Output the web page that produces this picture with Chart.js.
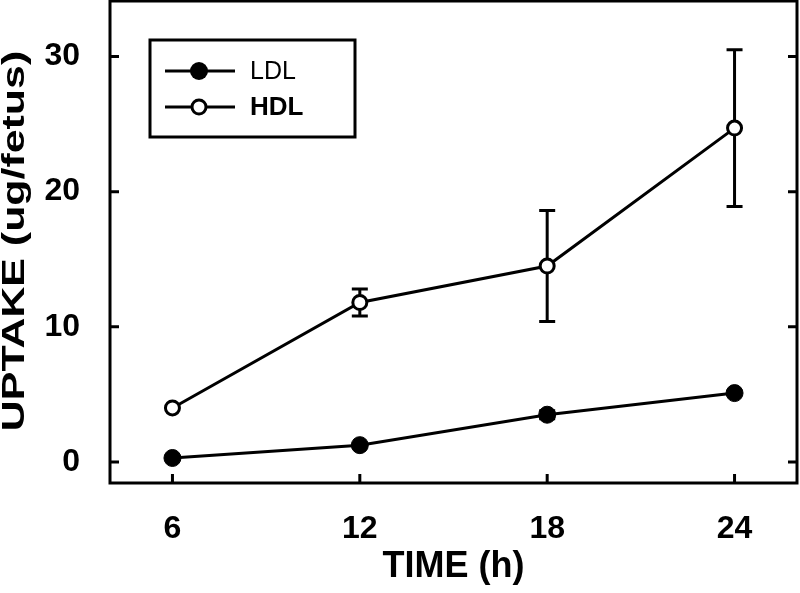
<!DOCTYPE html>
<html>
<head>
<meta charset="utf-8">
<script src="https://cdn.jsdelivr.net/npm/chart.js@4"></script>
<style>
  html, body { margin: 0; padding: 0; background: #fff; }
  #wrap { width: 800px; height: 593px; }
</style>
</head>
<body>
<div id="wrap"><canvas id="chart" width="800" height="593"></canvas></div>
<script>
const hours = [6, 12, 18, 24];
const ldl = [0.3, 1.25, 3.5, 5.1];
const ldlErr = [0, 0, 0.3, 0];
const hdl = [4.0, 11.8, 14.5, 24.7];
const hdlErr = [0, 1.0, 4.1, 5.8];
const xTicks = [6, 12, 18, 24];
const yTicks = [0, 10, 20, 30];

const FONT = "'Liberation Sans', Arial, sans-serif";

const errorBars = {
    id: "errorBars",
    beforeDatasetsDraw(chart) {
        const ctx = chart.ctx;
        const x = chart.scales.x, y = chart.scales.y;
        const errs = [ldlErr, hdlErr];
        ctx.save();
        ctx.strokeStyle = "#000";
        ctx.lineWidth = 3;
        chart.data.datasets.forEach((ds, i) => {
            ds.data.forEach((p, j) => {
                const e = errs[i][j];
                if (!e) return;
                const px = x.getPixelForValue(p.x);
                const top = y.getPixelForValue(p.y + e);
                const bot = y.getPixelForValue(p.y - e);
                ctx.beginPath();
                ctx.moveTo(px, top); ctx.lineTo(px, bot);
                ctx.moveTo(px - 8, top); ctx.lineTo(px + 8, top);
                ctx.moveTo(px - 8, bot); ctx.lineTo(px + 8, bot);
                ctx.stroke();
            });
        });
        ctx.restore();
    }
};

const frame = {
    id: "frame",
    afterDraw(chart) {
        const ctx = chart.ctx;
        const a = chart.chartArea;
        const x = chart.scales.x, y = chart.scales.y;
        ctx.save();
        ctx.strokeStyle = "#000";
        ctx.lineWidth = 3;
        ctx.strokeRect(a.left, a.top, a.right - a.left, a.bottom - a.top);
        ctx.beginPath();
        xTicks.forEach(v => {
            const px = x.getPixelForValue(v);
            ctx.moveTo(px, a.bottom); ctx.lineTo(px, a.bottom - 9);
        });
        yTicks.forEach(v => {
            const py = y.getPixelForValue(v);
            ctx.moveTo(a.left, py); ctx.lineTo(a.left + 9, py);
            ctx.moveTo(a.right, py); ctx.lineTo(a.right - 9, py);
        });
        ctx.stroke();

        // y axis title (stretched along its length like the original)
        ctx.save();
        ctx.translate(14, 241);
        ctx.rotate(-Math.PI / 2);
        ctx.scale(1.34, 1);
        ctx.fillStyle = "#000";
        ctx.font = "bold 32px " + FONT;
        ctx.textAlign = "center";
        ctx.textBaseline = "middle";
        ctx.fillText("UPTAKE (ug/fetus)", 0, 1);
        ctx.restore();

        // legend box
        const lx = 150, ly = 40, lw = 205, lh = 97;
        ctx.strokeRect(lx, ly, lw, lh);
        const items = [
            { label: "LDL", fill: "#000", bold: false, yy: 71 },
            { label: "HDL", fill: "#fff", bold: true, yy: 107 }
        ];
        items.forEach(it => {
            ctx.beginPath();
            ctx.moveTo(165, it.yy); ctx.lineTo(235, it.yy);
            ctx.stroke();
            ctx.beginPath();
            ctx.arc(199, it.yy, it.bold ? 7 : 9, 0, Math.PI * 2);
            ctx.fillStyle = it.fill;
            ctx.fill();
            if (it.bold) ctx.stroke();
            ctx.fillStyle = "#000";
            ctx.font = (it.bold ? "bold 26px " : "25px ") + FONT;
            ctx.textBaseline = "middle";
            ctx.textAlign = "left";
            ctx.fillText(it.label, 250, it.yy + 1);
        });
        ctx.restore();
    }
};

const ctx = document.getElementById("chart").getContext("2d");

new Chart(ctx, {
    type: "line",
    data: {
        datasets: [{
            label: "LDL",
            data: hours.map((h, i) => ({ x: h, y: ldl[i] })),
            borderColor: "#000",
            borderWidth: 3,
            pointRadius: 8.5,
            pointBackgroundColor: "#000",
            pointBorderColor: "#000",
            pointBorderWidth: 1
        }, {
            label: "HDL",
            data: hours.map((h, i) => ({ x: h, y: hdl[i] })),
            borderColor: "#000",
            borderWidth: 3,
            pointRadius: 7,
            pointBackgroundColor: "#fff",
            pointBorderColor: "#000",
            pointBorderWidth: 3
        }]
    },
    options: {
        responsive: false,
        animation: false,
        layout: { autoPadding: false, padding: { top: 1, right: 3, left: 0, bottom: 0 } },
        plugins: { legend: { display: false }, tooltip: { enabled: false } },
        scales: {
            x: {
                type: "linear",
                min: 4,
                max: 26,
                afterBuildTicks: s => { s.ticks = xTicks.map(v => ({ value: v })); },
                afterFit: s => { s.height = 110; s.paddingLeft = 0; s.paddingRight = 0; },
                grid: { display: false },
                border: { display: false },
                ticks: {
                    color: "#000",
                    padding: 19,
                    font: { family: FONT, size: 32, weight: "bold" }
                },
                title: {
                    display: true,
                    text: "TIME (h)",
                    color: "#000",
                    padding: { top: 4 },
                    font: { family: FONT, size: 36, weight: "bold" }
                }
            },
            y: {
                min: -1.55,
                max: 34.1,
                afterBuildTicks: s => { s.ticks = yTicks.map(v => ({ value: v })); },
                afterFit: s => { s.width = 110; s.paddingTop = 0; s.paddingBottom = 0; },
                grid: { display: false },
                border: { display: false },
                ticks: {
                    color: "#000",
                    padding: 22,
                    font: { family: FONT, size: 32, weight: "bold" }
                }
            }
        }
    },
    plugins: [errorBars, frame]
});
</script>
</body>
</html>
